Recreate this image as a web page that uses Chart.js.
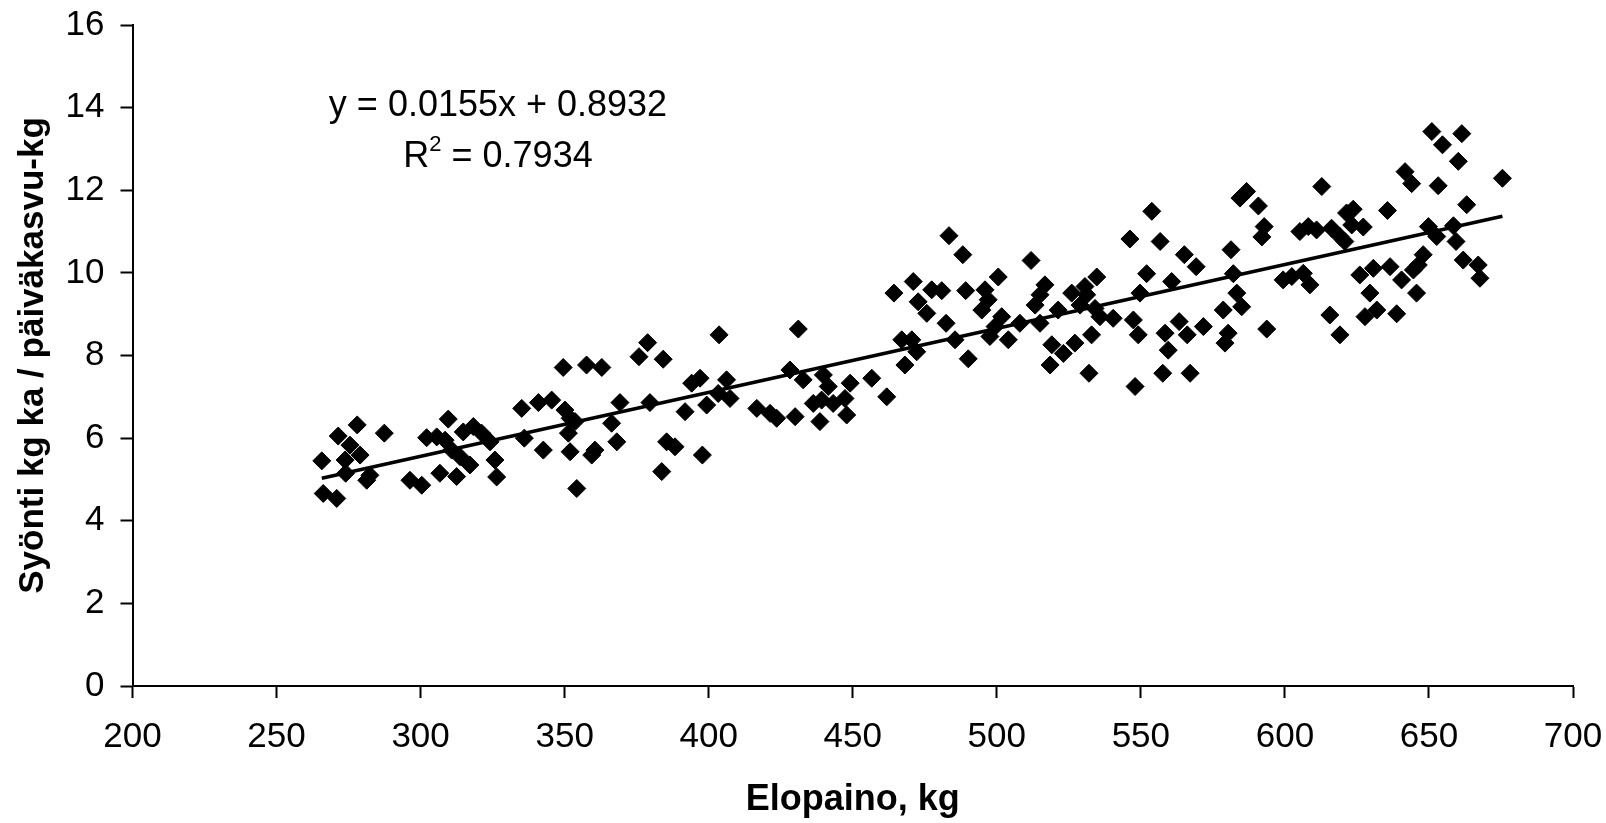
<!DOCTYPE html>
<html>
<head>
    <title>Syönti ja elopaino</title>
    <meta http-equiv="content-type" content="text/html;charset=UTF-8">
    <script src="https://cdn.jsdelivr.net/npm/chart.js@4"></script>
    <style>
        html, body {
            margin: 0;
            padding: 0;
            background: #fff;
        }

        #wrap {
            width: 1606px;
            height: 823px;
        }
    </style>
</head>
<body>
<div id="wrap">
    <canvas id="chart" width="1606" height="823"></canvas>
</div>
<script>
    // havainnot luettu kuvasta: elopaino (kg) ja syönti kg ka / päiväkasvu-kg
    const weightKg = [
        278.0, 271.4, 287.4, 265.7, 275.5, 279.0, 273.8, 274.0, 281.3, 282.4, 266.2, 270.9,
        309.6, 302.1, 305.6, 308.5, 314.8, 318.3, 310.8, 313.7, 296.3, 300.4, 306.7, 312.5, 317.1,
        321.2, 324.1, 325.8, 326.4, 335.1, 340.9, 345.5, 336.0, 342.6, 349.5, 357.6, 362.9,
        378.8, 375.8, 384.2, 350.1, 351.9, 353.6, 351.3, 351.9, 354.2, 360.5, 359.4, 366.3,
        369.2, 368.1, 379.6, 385.4, 388.3, 383.7,
        403.6, 431.1, 397.0, 394.1, 391.8, 399.3, 406.2, 407.4, 403.3, 397.8, 428.2, 432.8,
        416.7, 421.3, 423.6, 430.0, 439.8, 441.5, 436.3, 439.2, 443.2, 447.3, 449.1, 438.6,
        447.9, 456.6,
        483.4, 488.2, 511.9, 471.0, 464.3, 477.4, 480.9, 489.2, 495.9, 500.5, 472.7, 475.7,
        497.0, 494.8, 516.7, 515.0, 513.3, 526.0, 521.3, 482.4, 467.0, 470.5, 472.2, 468.1,
        485.5, 490.1, 501.7, 499.4, 497.6, 504.0, 508.0, 515.0, 519.1, 523.1, 518.5, 527.1, 461.8,
        586.7, 584.4, 590.8, 592.8, 592.0, 553.8, 546.2, 556.7, 565.1, 569.2, 581.3, 534.7,
        552.0, 560.7, 582.1, 530.6, 531.2, 528.9, 534.1, 535.8, 540.4, 549.7, 547.4, 549.1,
        583.3, 585.0, 578.6, 563.3, 558.4, 566.1, 571.7, 580.3, 579.2, 559.5, 593.7, 532.9,
        532.0, 548.0, 557.6, 567.1,
        651.0, 661.4, 654.7, 660.2, 641.7, 644.0, 653.2, 675.5, 612.8, 663.1, 635.6, 623.7,
        621.4, 605.2, 608.1, 611.0, 616.2, 619.1, 620.8, 623.2, 627.2, 649.8, 652.7, 658.5,
        659.4, 648.0, 646.3, 644.6, 661.9, 667.1, 667.7, 599.4, 602.4, 606.4, 608.7, 626.0,
        630.7, 636.5, 640.5, 629.5, 631.9, 627.8, 638.8, 645.7, 615.6, 619.1
    ];
    const intake = [
        6.32, 6.05, 6.12, 5.45, 5.83, 5.59, 5.47, 5.15, 4.98, 5.10, 4.66, 4.54,
        6.46, 6.01, 6.03, 5.95, 6.15, 6.28, 5.71, 5.55, 4.98, 4.86, 5.15, 5.07, 5.35,
        6.12, 5.91, 5.47, 5.06, 6.72, 6.86, 6.92, 6.00, 5.71, 7.71, 7.77, 7.71,
        8.31, 7.97, 7.91, 6.68, 6.48, 6.40, 6.12, 5.67, 4.78, 5.71, 5.59, 6.36,
        6.86, 5.91, 6.86, 5.91, 5.79, 5.19,
        8.50, 8.64, 7.45, 7.33, 6.64, 6.80, 7.41, 6.96, 7.08, 5.59, 7.65, 7.41,
        6.72, 6.60, 6.48, 6.52, 7.53, 7.25, 6.84, 6.92, 6.84, 6.96, 7.33, 6.40,
        6.56, 7.45,
        10.90, 10.44, 10.30, 9.79, 9.51, 9.59, 9.57, 9.57, 9.59, 9.90, 9.30, 9.02,
        9.35, 9.10, 9.71, 9.47, 9.22, 9.51, 9.10, 8.78, 8.38, 8.38, 8.09, 7.77,
        8.38, 7.92, 8.94, 8.70, 8.46, 8.38, 8.78, 8.78, 8.26, 8.05, 7.77, 8.30, 7.00,
        11.97, 11.81, 11.62, 11.12, 10.87, 11.49, 10.82, 10.76, 10.44, 10.15, 10.56, 9.90,
        9.98, 9.79, 9.98, 9.67, 9.47, 9.22, 9.14, 8.94, 8.90, 9.51, 8.86, 8.50,
        9.51, 9.18, 9.10, 8.82, 8.54, 8.50, 8.70, 8.54, 8.30, 8.13, 8.64, 8.50,
        7.57, 7.25, 7.57, 7.57,
        13.42, 13.37, 13.10, 12.70, 12.45, 12.16, 12.11, 12.29, 12.09, 11.65, 11.51, 11.54,
        11.45, 11.00, 11.12, 11.04, 11.08, 10.88, 10.76, 11.16, 11.11, 11.12, 10.88, 11.14,
        10.76, 10.44, 10.19, 10.07, 10.31, 10.19, 9.87, 9.83, 9.91, 9.99, 9.71, 9.95,
        10.11, 10.15, 9.83, 9.51, 9.10, 8.94, 9.01, 9.51, 8.98, 8.50
    ];

    // trendiviivan päätepisteet kuvasta
    const trendX = [265.7, 675.5];
    const trendY = [5.03, 11.37];

    const xTicks = [200, 250, 300, 350, 400, 450, 500, 550, 600, 650, 700];
    const yTicks = [0, 2, 4, 6, 8, 10, 12, 14, 16];

    const equationText = 'y = 0.0155x + 0.8932';
    const r2Text = '0.7934';

    const FONT = '"Liberation Sans", Arial, sans-serif';
    Chart.defaults.color = '#000';
    Chart.defaults.font.family = FONT;

    let points = weightKg.map((x, i) => ({x: x, y: intake[i]}));
    let trend = trendX.map((x, i) => ({x: x, y: trendY[i]}));

    // yhtälö ja R2 tekstinä kuvaajan päälle
    const equationPlugin = {
        id: 'equation',
        afterDraw(chart) {
            const ctx = chart.ctx;
            const cx = 498;
            ctx.save();
            ctx.fillStyle = '#000';
            ctx.textBaseline = 'alphabetic';
            ctx.font = '36px ' + FONT;
            ctx.textAlign = 'center';
            ctx.fillText(equationText, cx, 116);

            // R^2 = ...
            const rest = ' = ' + r2Text;
            const wR = ctx.measureText('R').width;
            const wRest = ctx.measureText(rest).width;
            ctx.font = '22px ' + FONT;
            const wSup = ctx.measureText('2').width;
            let x0 = cx - (wR + wSup + wRest) / 2;
            ctx.textAlign = 'left';
            ctx.font = '36px ' + FONT;
            ctx.fillText('R', x0, 167);
            ctx.font = '22px ' + FONT;
            ctx.fillText('2', x0 + wR, 151);
            ctx.font = '36px ' + FONT;
            ctx.fillText(rest, x0 + wR + wSup, 167);
            ctx.restore();
        }
    };

    new Chart(document.getElementById('chart'), {
        type: 'scatter',
        data: {
            datasets: [{
                data: points,
                pointStyle: 'rectRot',
                pointRadius: 9,
                pointHoverRadius: 9,
                backgroundColor: '#000',
                borderColor: '#000',
                borderWidth: 1,
                order: 2
            }, {
                type: 'line',
                data: trend,
                showLine: true,
                borderColor: '#000',
                borderWidth: 3.5,
                pointRadius: 0,
                fill: false,
                order: 1
            }]
        },
        options: {
            responsive: false,
            animation: false,
            events: [],
            layout: {
                padding: {left: 0, right: 33, top: 25, bottom: 0}
            },
            plugins: {
                legend: {display: false},
                tooltip: {enabled: false}
            },
            scales: {
                x: {
                    type: 'linear',
                    min: 200,
                    max: 700,
                    afterBuildTicks: (scale) => {
                        scale.ticks = xTicks.map(v => ({value: v}));
                    },
                    afterFit: (scale) => {
                        scale.height = 137;
                        scale.paddingLeft = 0;
                        scale.paddingRight = 0;
                    },
                    grid: {
                        drawOnChartArea: false,
                        drawTicks: true,
                        tickLength: 12,
                        tickWidth: 2,
                        tickColor: '#000'
                    },
                    border: {color: '#000', width: 2},
                    ticks: {
                        font: {size: 35},
                        color: '#000',
                        padding: 18,
                        maxRotation: 0
                    },
                    title: {
                        display: true,
                        text: 'Elopaino, kg',
                        font: {size: 36, weight: 'bold'},
                        color: '#000',
                        padding: {top: 0, bottom: 1}
                    }
                },
                y: {
                    type: 'linear',
                    min: 0,
                    max: 16,
                    afterBuildTicks: (scale) => {
                        scale.ticks = yTicks.map(v => ({value: v}));
                    },
                    afterFit: (scale) => {
                        scale.width = 132.5;
                        scale.paddingTop = 0;
                        scale.paddingBottom = 0;
                    },
                    grid: {
                        drawOnChartArea: false,
                        drawTicks: true,
                        tickLength: 12,
                        tickWidth: 2,
                        tickColor: '#000'
                    },
                    border: {color: '#000', width: 2},
                    ticks: {
                        font: {size: 35},
                        color: '#000',
                        padding: 16
                    },
                    title: {
                        display: true,
                        text: 'Syönti kg ka / päiväkasvu-kg',
                        font: {size: 35, weight: 'bold'},
                        color: '#000',
                        padding: {top: 12, bottom: 0}
                    }
                }
            }
        },
        plugins: [equationPlugin]
    });
</script>
</body>
</html>
